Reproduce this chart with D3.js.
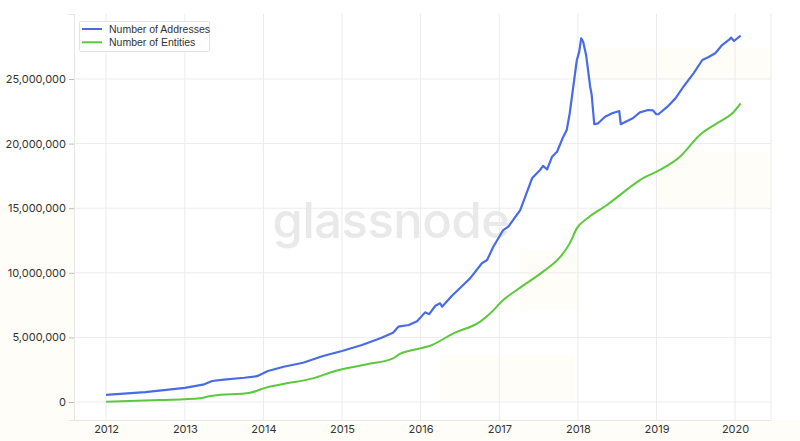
<!DOCTYPE html>
<html>
<head>
<meta charset="utf-8">
<script src="https://cdn.jsdelivr.net/npm/d3@7"></script>
<style>
html,body{margin:0;padding:0;background:#fff;}
svg{display:block;font-family:Inter,"Noto Sans",sans-serif;}
</style>
</head>
<body>
<svg id="chart" width="800" height="441"></svg>
<script>
// ---- data (values in millions) ----
const seriesNames = ["Number of Addresses", "Number of Entities"];
const addrDates = ["2012-01-01","2012-07-01","2013-01-01","2013-04-01","2013-05-08","2013-07-01","2013-10-04","2013-12-02","2014-01-22","2014-04-05","2014-07-04","2014-10-05","2015-01-01","2015-04-04","2015-07-01","2015-08-26","2015-09-20","2015-11-07","2015-12-16","2016-01-22","2016-02-10","2016-03-10","2016-04-01","2016-04-10","2016-05-26","2016-07-17","2016-08-18","2016-10-12","2016-11-05","2016-12-04","2017-01-19","2017-02-12","2017-04-08","2017-06-02","2017-07-09","2017-07-23","2017-08-11","2017-09-03","2017-09-26","2017-10-24","2017-11-10","2017-11-24","2017-12-27","2018-01-07","2018-01-16","2018-01-25","2018-02-08","2018-02-27","2018-03-06","2018-03-18","2018-04-05","2018-05-07","2018-06-09","2018-07-12","2018-07-19","2018-08-18","2018-09-13","2018-10-16","2018-11-23","2018-12-16","2018-12-31","2019-01-10","2019-02-21","2019-03-30","2019-05-06","2019-06-22","2019-08-02","2019-08-29","2019-10-01","2019-11-02","2019-12-03","2019-12-14","2019-12-27","2020-01-27"];
const addrValues = [0.55,0.77,1.10,1.37,1.63,1.73,1.88,2.00,2.40,2.73,3.04,3.56,3.95,4.41,4.95,5.36,5.83,5.96,6.25,6.94,6.80,7.45,7.64,7.38,8.23,9.06,9.57,10.74,10.99,12.02,13.31,13.57,14.86,17.31,17.96,18.27,18.00,18.99,19.37,20.50,21.05,22.35,26.47,27.10,28.15,27.90,26.86,24.40,23.76,21.50,21.57,22.08,22.35,22.52,21.50,21.75,21.96,22.42,22.60,22.57,22.27,22.27,22.86,23.50,24.40,25.44,26.47,26.68,26.99,27.63,28.02,28.20,27.94,28.35];
const entDates = ["2012-01-01","2012-09-08","2013-03-14","2013-04-13","2013-05-12","2013-10-31","2013-12-02","2014-01-01","2014-04-03","2014-08-19","2014-11-20","2015-04-27","2015-08-26","2015-09-27","2016-01-01","2016-02-15","2016-06-02","2016-10-04","2016-11-20","2017-01-19","2017-04-08","2017-07-23","2017-10-12","2017-11-24","2017-12-27","2018-02-14","2018-05-16","2018-08-18","2018-10-16","2019-01-17","2019-04-20","2019-07-21","2019-10-22","2019-12-22","2020-01-27"];
const entValues = [0.02,0.15,0.29,0.41,0.49,0.72,0.87,1.06,1.39,1.83,2.35,2.92,3.38,3.72,4.16,4.36,5.32,6.22,6.87,7.89,8.85,10.09,11.25,12.28,13.44,14.22,15.25,16.46,17.18,17.96,18.99,20.67,21.70,22.39,23.12];
const yTicks = [0, 5000000, 10000000, 15000000, 20000000, 25000000];
const xTickYears = [2012,2013,2014,2015,2016,2017,2018,2019,2020];
const colors = ["#4a6be6", "#5cc83c"];

// ---- layout ----
const svg = d3.select("#chart");
const W = 800, H = 441;
const m = {left: 74, right: 29, top: 14, bottom: 21};
const parse = d3.utcParse("%Y-%m-%d");

// faint background tiles
const bg = svg.append("g");
const tiles = [[0,205,74,236],[0,420,800,21],[590,48,180,32],[655,152,115,55],[440,355,135,45],[520,250,60,60]];
bg.selectAll("rect").data(tiles).join("rect")
  .attr("x",d=>d[0]).attr("y",d=>d[1]).attr("width",d=>d[2]).attr("height",d=>d[3])
  .attr("fill","#fefdf8");

const x = d3.scaleUtc()
  .domain([d3.utcDay.offset(new Date(Date.UTC(2012,0,1)), -149), d3.utcDay.offset(new Date(Date.UTC(2020,0,1)), 167)])
  .range([m.left, W - m.right]);
const y = d3.scaleLinear().domain([-1390000, 30030000]).range([H - m.bottom, m.top]);

// grid
const grid = svg.append("g");
grid.selectAll("line.v").data(xTickYears).join("line")
  .attr("x1", d => x(new Date(Date.UTC(d,0,1)))).attr("x2", d => x(new Date(Date.UTC(d,0,1))))
  .attr("y1", m.top).attr("y2", H - m.bottom)
  .attr("stroke", "#ececec").attr("stroke-width", 1);
grid.selectAll("line.h").data(yTicks).join("line")
  .attr("x1", m.left).attr("x2", W - m.right)
  .attr("y1", d => y(d)).attr("y2", d => y(d))
  .attr("stroke", "#ececec").attr("stroke-width", 1);
svg.append("line").attr("x1", W - m.right).attr("x2", W - m.right).attr("y1", m.top).attr("y2", H - m.bottom).attr("stroke", "#ececec");

// watermark
svg.append("text").attr("x", 391).attr("y", 238).attr("text-anchor", "middle")
  .attr("font-size", 49).attr("font-weight", 500).attr("fill", "#e9e9e9")
  .attr("letter-spacing", "-0.5").text("glassnode");

// axes
const yAxis = d3.axisLeft(y).tickValues(yTicks).tickSize(5).tickPadding(3)
  .tickFormat(d3.format(","));
const gy = svg.append("g").attr("transform", `translate(${m.left},0)`).call(yAxis);
gy.select(".domain").attr("stroke", "#e6e6e6");
gy.selectAll(".tick line").attr("stroke", "#bbb");
gy.selectAll("text").attr("font-size", 11).attr("fill", "#333").attr("font-family", "Inter");

const xAxis = d3.axisBottom(x).tickValues(xTickYears.map(d => new Date(Date.UTC(d,0,1))))
  .tickSize(0).tickPadding(5).tickFormat(d3.utcFormat("%Y"));
const gx = svg.append("g").attr("transform", `translate(0,${H - m.bottom})`).call(xAxis);
gx.select(".domain").attr("stroke", "#e6e6e6");
gx.selectAll("text").attr("font-size", 11).attr("fill", "#333").attr("font-family", "Inter");

// lines
const lineA = d3.line().x(d => x(d.date)).y(d => y(d.value * 1e6)).curve(d3.curveLinear);
const lineE = d3.line().x(d => x(d.date)).y(d => y(d.value * 1e6)).curve(d3.curveMonotoneX);
const addr = addrDates.map((d, i) => ({date: parse(d), value: addrValues[i]}));
const ent = entDates.map((d, i) => ({date: parse(d), value: entValues[i]}));
svg.append("path").datum(ent).attr("d", lineE).attr("fill", "none")
  .attr("stroke", colors[1]).attr("stroke-width", 2).attr("stroke-linejoin", "round");
svg.append("path").datum(addr).attr("d", lineA).attr("fill", "none")
  .attr("stroke", colors[0]).attr("stroke-width", 2.2).attr("stroke-linejoin", "round");

// legend
const lg = svg.append("g");
lg.append("rect").attr("x", 79.5).attr("y", 21.5).attr("width", 130).attr("height", 30)
  .attr("fill", "#fff").attr("fill-opacity", 0.9).attr("stroke", "#e3e3e3").attr("rx", 1);
seriesNames.forEach((n, i) => {
  const yy = 29 + i * 13.3;
  lg.append("line").attr("x1", 82).attr("x2", 102).attr("y1", yy).attr("y2", yy)
    .attr("stroke", colors[i]).attr("stroke-width", 2);
  lg.append("text").attr("x", 109).attr("y", yy + 3.8).attr("font-size", 10.5)
    .attr("fill", "#333").attr("font-family", "'Liberation Sans', Arial, sans-serif").text(n);
});
</script>
</body>
</html>
